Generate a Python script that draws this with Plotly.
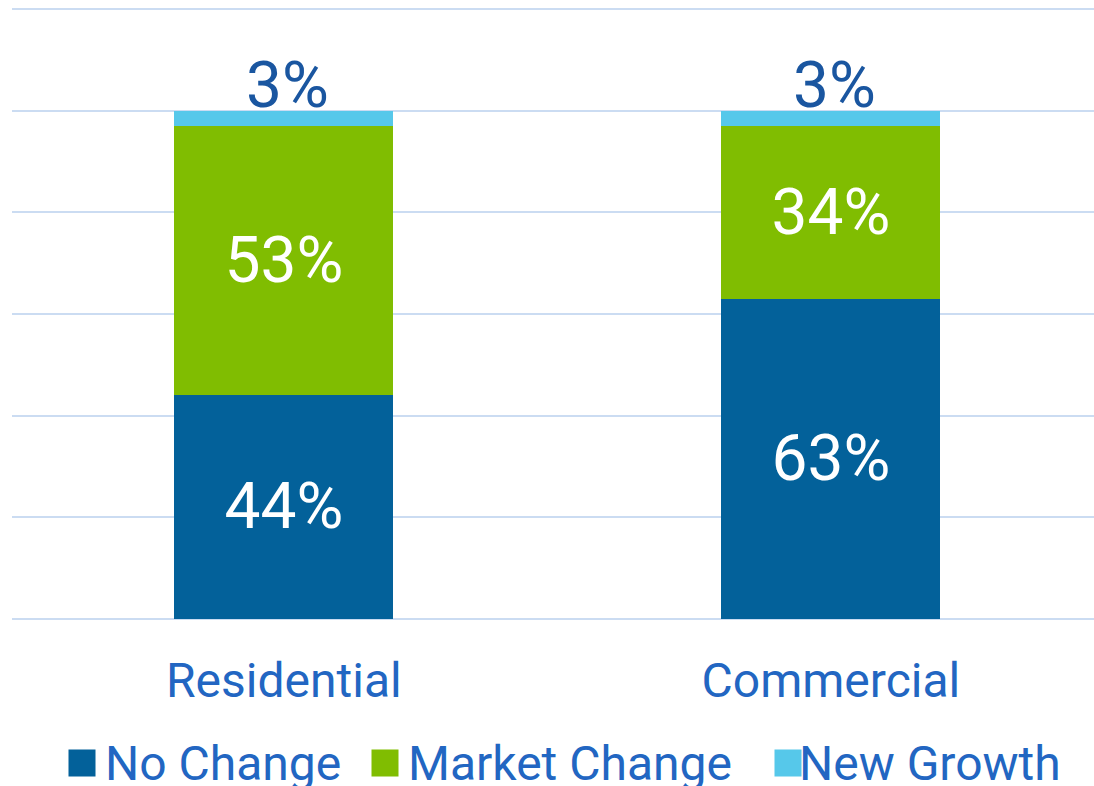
import plotly.graph_objects as go

categories = ["Residential", "Commercial"]
no_change = [44, 63]
market_change = [53, 34]
new_growth = [3, 3]
series_names = ["No Change", "Market Change", "New Growth"]
series_colors = ["#03619a", "#80bd01", "#56c8ea"]

FONT = "Roboto"
fig = go.Figure()
for vals, name, color in [
    (no_change, series_names[0], series_colors[0]),
    (market_change, series_names[1], series_colors[1]),
]:
    fig.add_trace(go.Bar(
        x=categories, y=vals, name=name,
        marker=dict(color=color, line=dict(width=0)),
        text=[f"{v}%" for v in vals],
        textposition="inside",
        insidetextanchor="middle",
        insidetextfont=dict(family=FONT, size=64, color="white"),
        constraintext="none",
        showlegend=False,
    ))
fig.add_trace(go.Bar(
    x=categories, y=new_growth, name=series_names[2],
    marker=dict(color=series_colors[2], line=dict(width=0)),
    textposition="none", showlegend=False,
))
totals = [a + b + c for a, b, c in zip(no_change, market_change, new_growth)]
for cat, tot, v in zip(categories, totals, new_growth):
    fig.add_annotation(x=cat, y=tot, xref="x", yref="y", text=f"{v}%",
                       showarrow=False, xanchor="center", yanchor="bottom",
                       yshift=-13, xshift=4, borderpad=0,
                       font=dict(family=FONT, size=64, color="#1a56a0"))

fig.update_layout(
    barmode="stack",
    bargap=0.6,
    width=1094, height=786,
    margin=dict(l=12, r=0, t=8, b=166),
    paper_bgcolor="white", plot_bgcolor="white",
    xaxis=dict(range=[-0.497, 1.481], showgrid=False, zeroline=False, showline=False,
               ticks="", tickfont=dict(family=FONT, size=48, color="#2266c2"),
               ticklabelstandoff=28),
    yaxis=dict(range=[-0.25, 120.25], dtick=20, showgrid=True, gridcolor="#cbdcf2", gridwidth=2,
               showticklabels=False, zeroline=False, showline=False),
    font=dict(family=FONT),
)

# custom legend
leg_sq_x = [82, 385, 788]
leg_tx_x = [103, 406, 797]
W = 1094 - 12
H = 786 - 8 - 166
ly = (620 - 763) / H
for name, color, sx, tx in zip(series_names, series_colors, leg_sq_x, leg_tx_x):
    fig.add_annotation(x=(sx - 12) / W, y=ly, xref="paper", yref="paper",
                       text=" ", showarrow=False, width=26, height=26,
                       bgcolor=color, borderpad=0, xanchor="center", yanchor="middle")
    fig.add_annotation(x=(tx - 12) / W, y=ly, xref="paper", yref="paper",
                       text=name, showarrow=False, xanchor="left", yanchor="middle",
                       font=dict(family=FONT, size=48, color="#2266c2"))

fig.write_html("out.html", config={"displayModeBar": False},
               post_script="document.body.style.margin='0';document.body.style.overflow='hidden';")
